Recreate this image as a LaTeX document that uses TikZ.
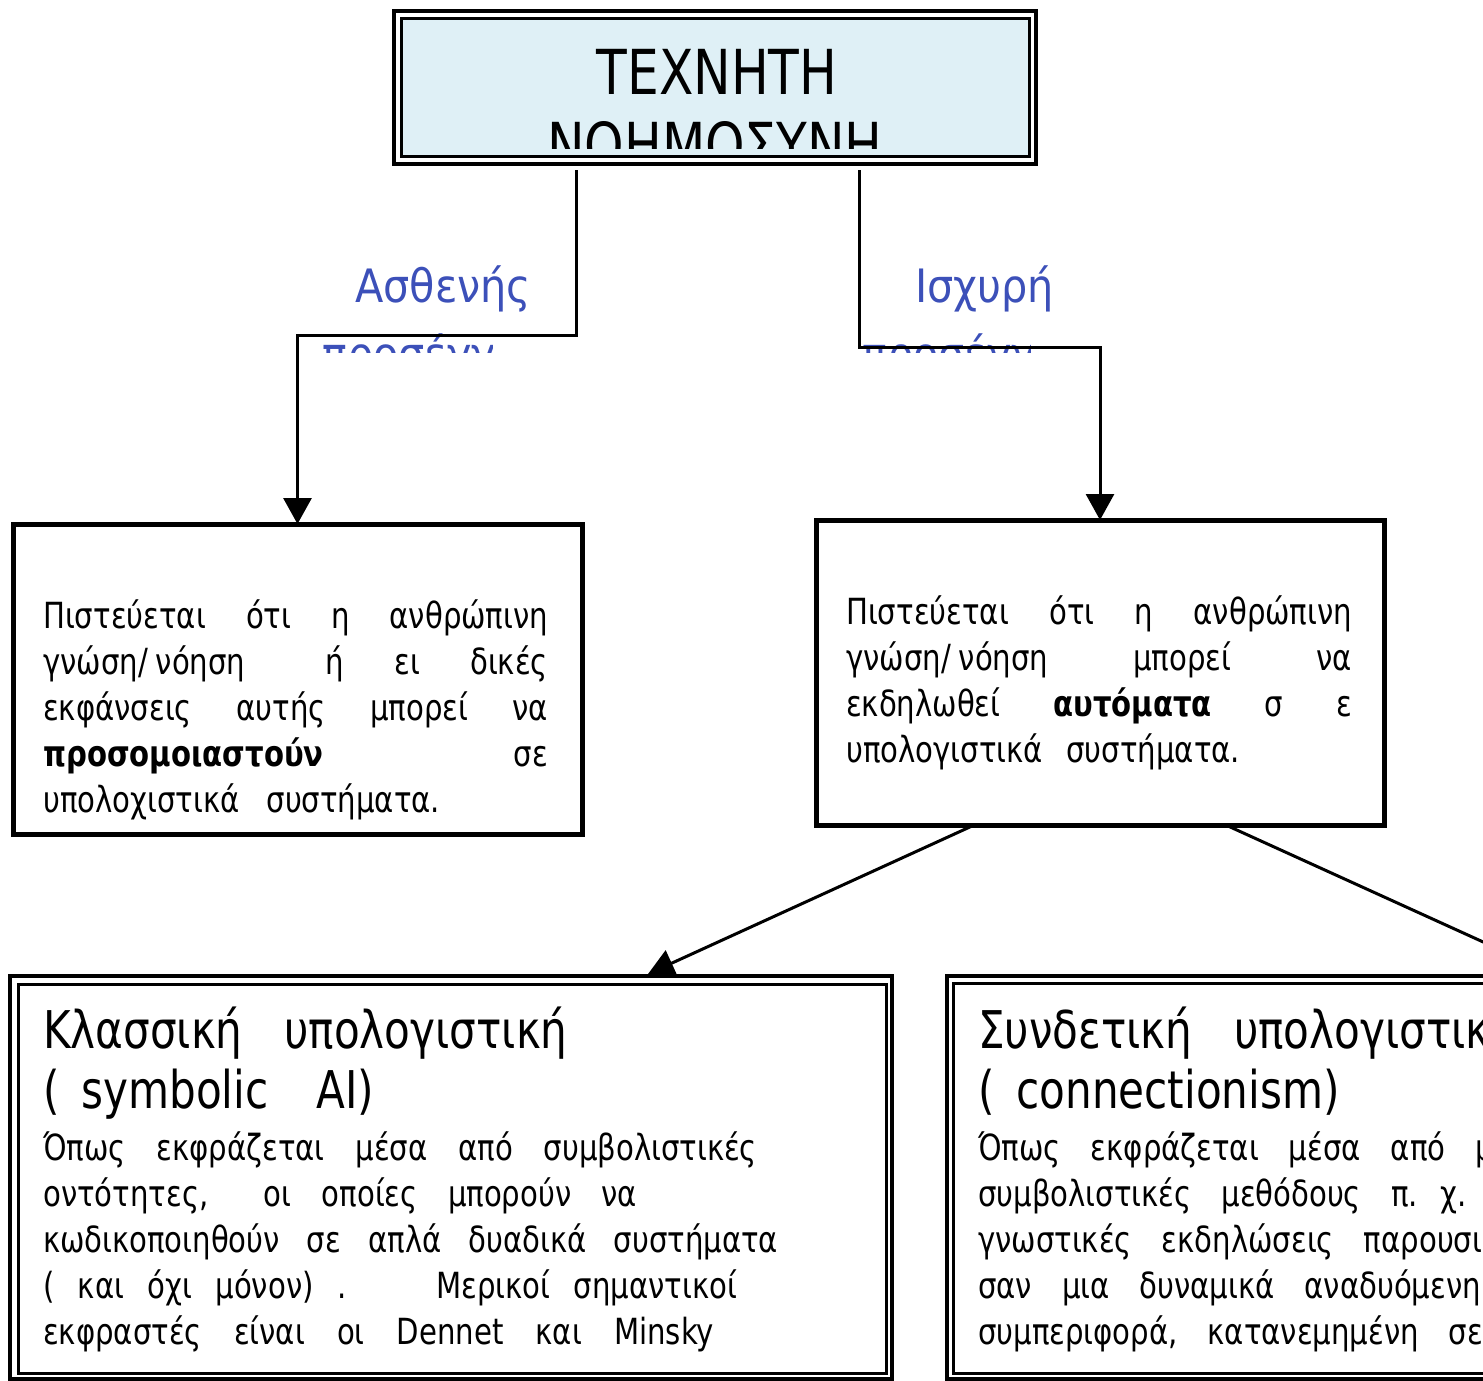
\documentclass[tikz,border=0pt]{standalone}
\usepackage{fontspec}
\setmainfont{DejaVu Sans Condensed}[FakeStretch=0.9]
\newfontfamily\labfont{DejaVu Sans Condensed}
\usetikzlibrary{arrows.meta}
\definecolor{boxblue}{RGB}{223,240,246}
\definecolor{labblue}{RGB}{60,80,185}
\newcommand\jl[2]{\makebox[#1pt][s]{#2}}
\newcommand\widesp{\spaceskip=30pt\relax}
\tikzset{
  x=1pt, y=-1pt,
  thickbox/.style={draw, line width=5pt, inner sep=0, outer sep=0},
  outerbox/.style={draw, line width=4pt, inner sep=0, outer sep=0},
  innerbox/.style={draw, line width=3pt, inner sep=0, outer sep=0},
  body/.style={anchor=base west, inner sep=0, font=\fontsize{36}{36}\selectfont},
  btitle/.style={anchor=base west, inner sep=0, font=\fontsize{52}{52}\selectfont},
  rbody/.style={anchor=base west, inner sep=0, font=\fontsize{36}{36}\selectfont},
  lab/.style={anchor=base west, inner sep=0, text=labblue, font=\labfont\fontsize{46}{46}\selectfont},
  conn/.style={line width=3pt},
  arr/.style={conn, -{Triangle[length=26pt,width=28pt]}},
}
\begin{document}
\begin{tikzpicture}
\useasboundingbox (0,0) rectangle (1483,1381);
\clip (0,0) rectangle (1483,1381);

% ---------- top box ----------
\node[outerbox, fill=white, minimum width=642pt, minimum height=153pt] (top) at (715,87.5) {};
\node[innerbox, fill=boxblue, minimum width=628pt, minimum height=138pt] (topin) at (715,87.5) {};
\node[anchor=base, inner sep=0, font=\fontsize{62}{62}\selectfont] (t1) at (717,95) {ΤΕΧΝΗΤΗ};
\begin{scope}
  \clip (403,20) rectangle (1027,148);
  \node[anchor=base, inner sep=0, font=\fontsize{62}{62}\selectfont] (t2) at (715,167) {ΝΟΗΜΟΣΥΝΗ};
\end{scope}

% ---------- labels ----------
\node[lab] (la1) at (355,302) {Ασθενής};
\begin{scope}
  \clip (300,320) rectangle (492,352);
  \node[lab] (la2) at (322,370) {προσέγγιση};
\end{scope}
\node[lab] (lb1) at (915,302) {Ισχυρή};
\begin{scope}
  \clip (855,320) rectangle (1030,352);
  \node[lab] (lb2) at (862,370) {προσέγγιση};
\end{scope}

% ---------- middle boxes ----------
\node[thickbox, minimum width=569pt, minimum height=310pt] (midl) at (297.5,679) {};
\node[thickbox, minimum width=568pt, minimum height=305pt] (midr) at (1100,672.5) {};

\node[body] (ml1) at (43,628) {\jl{505}{Πιστεύεται ότι η ανθρώπινη}};
\node[body] (ml2) at (43,674) {\jl{505}{γνώση/\hspace{8pt}νόηση\hspace{30pt} ή ει δικές}};
\node[body] (ml3) at (43,720) {\jl{505}{εκφάνσεις αυτής μπορεί να}};
\node[body] (ml4) at (43,766) {\jl{505}{\textbf{προσομοιαστούν} σε}};
\node[body] (ml5) at (43,812) {\jl{397}{υπολοχιστικά συστήματα.}};

\node[body] (mr1) at (846,624) {\jl{506}{Πιστεύεται ότι η ανθρώπινη}};
\node[body] (mr2) at (846,670) {\jl{506}{γνώση/\hspace{8pt}νόηση μπορεί να}};
\node[body] (mr3) at (846,716) {\jl{506}{εκδηλωθεί \textbf{αυτόματα} σ ε}};
\node[body] (mr4) at (846,762) {\jl{394}{υπολογιστικά συστήματα.}};

% ---------- bottom boxes ----------
\node[outerbox, minimum width=882pt, minimum height=403pt] (bl) at (451,1177.5) {};
\node[innerbox, minimum width=868pt, minimum height=389pt] (blin) at (452,1178.5) {};
\node[outerbox, minimum width=553pt, minimum height=403pt] (br) at (1223.5,1177.5) {};
\node[innerbox, minimum width=541pt, minimum height=390pt] (brin) at (1223.5,1178) {};

\node[btitle] (bt1) at (43,1048) {Κλασσική\hspace{42pt}υπολογιστική};
\node[btitle] (bt2) at (43,1108) {(\hspace{22pt}symbolic\hspace{48pt}AI)};
\node[body] (bb1) at (43,1160) {\jl{714}{Όπως εκφράζεται μέσα από συμβολιστικές}};
\node[body] (bb2) at (43,1206) {\jl{594}{οντότητες,\hspace{20pt} οι οποίες μπορούν να}};
\node[body] (bb3) at (43,1252) {\jl{735}{κωδικοποιηθούν σε απλά δυαδικά συστήματα}};
\node[body] (bb4) at (43,1298) {\jl{694}{( και όχι μόνον) .\hspace{35pt} Μερικοί σημαντικοί}};
\node[body] (bb5) at (43,1344) {\jl{671}{εκφραστές είναι οι Dennet και Minsky}};

\node[btitle] (rt1) at (978,1048) {Συνδετική\hspace{42pt}υπολογιστική};
\node[btitle] (rt2) at (978,1108) {(\hspace{22pt}connectionism)};
\node[rbody] (rb1) at (978,1160) {\widesp Όπως εκφράζεται μέσα από μη};
\node[rbody] (rb2) at (978,1206) {\widesp συμβολιστικές μεθόδους π.\hspace{-10pt} χ.};
\node[rbody] (rb3) at (978,1252) {\widesp γνωστικές εκδηλώσεις παρουσιάζονται};
\node[rbody] (rb4) at (978,1298) {\widesp σαν μια δυναμικά αναδυόμενη};
\node[rbody] (rb5) at (978,1344) {\widesp συμπεριφορά, κατανεμημένη σε};

% ---------- connectors ----------
\coordinate (ts1) at (576,170);
\coordinate (ts2) at (859,170);
\draw[arr] (ts1) -- (576,335) -| (midl.north);
\draw[arr] (ts2) -- (859,347) -| (midr.north);
\coordinate (ds1) at (972,826);
\coordinate (da1) at (648,974);
\coordinate (ds2) at (1228,826);
\coordinate (da2) at (1558,976);
\draw[arr] (ds1) -- (da1);
\draw[arr] (ds2) -- (da2);
\end{tikzpicture}
\end{document}
